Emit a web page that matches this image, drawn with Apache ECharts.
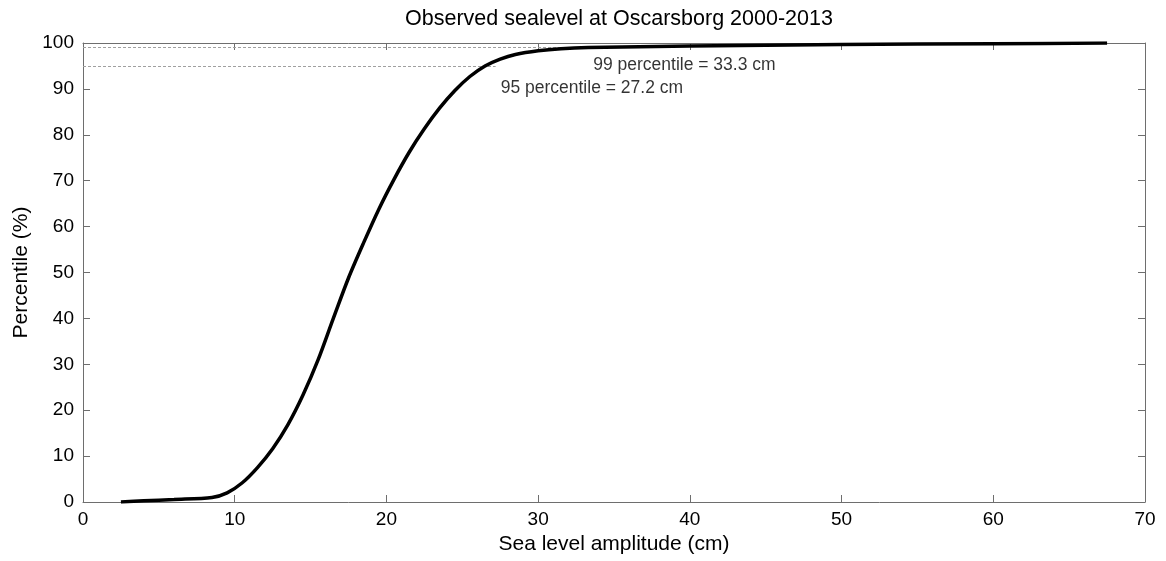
<!DOCTYPE html>
<html>
<head>
<meta charset="utf-8">
<script src="https://cdn.jsdelivr.net/npm/echarts@6/dist/echarts.min.js"></script>
<style>html,body{margin:0;padding:0;background:#fff}#c{width:1166px;height:561px}</style>
</head>
<body>
<div id="c"></div>
<script>
const amplitudeCm = [2.5,4,6,8.5,9.5,10.5,11.5,12.5,13.5,14.5,15.5,16.5,17.5,18.5,19.5,20.5,21.5,22.5,23.5,24.5,25.5,26.5,27.5,28.5,30.0,31.5,33.3,40,50,60,67.5];
const percentile = [0,0.25,0.55,1.0,2.0,4.2,7.5,11.6,16.8,23.3,31.0,40.0,48.8,56.5,63.8,70.3,76.2,81.3,85.8,89.6,92.7,95.0,96.5,97.5,98.3,98.75,99.0,99.35,99.65,99.85,100];
const markLevels = [99, 95];
const markValues = [33.3, 27.2];
const markTexts = ['99 percentile = 33.3 cm', '95 percentile = 27.2 cm'];
const xTicks = [0,10,20,30,40,50,60,70];
const yTicks = [0,10,20,30,40,50,60,70,80,90,100];

const chart = echarts.init(document.getElementById('c'));
const font = 'Liberation Sans, Arial, sans-serif';
const axisColor = '#6e6e6e';
const labelOffsets = [[0, 17.5], [0, 22.5]];
const baseAxis = {
  axisLine: {show: true, onZero: false, lineStyle: {color: axisColor, width: 1}},
  axisTick: {show: true, inside: true, length: 7, lineStyle: {color: axisColor}},
  splitLine: {show: false}
};
chart.setOption({
  animation: false,
  backgroundColor: '#fff',
  title: {
    text: 'Observed sealevel at Oscarsborg 2000-2013',
    left: 619, top: 8, padding: 0, textAlign: 'center',
    textStyle: {fontFamily: font, fontSize: 21.5, fontWeight: 'normal', color: '#000'}
  },
  grid: {left: 83, right: 21, top: 43, bottom: 59, containLabel: false},
  xAxis: [
    Object.assign({}, baseAxis, {
      type: 'value', min: xTicks[0], max: xTicks[xTicks.length-1], interval: 10,
      position: 'bottom',
      name: 'Sea level amplitude (cm)', nameLocation: 'middle', nameGap: 21,
      nameTextStyle: {fontFamily: font, fontSize: 21, color: '#000', verticalAlign: 'top'},
      axisLabel: {fontFamily: font, fontSize: 19, color: '#000', margin: 8}
    }),
    Object.assign({}, baseAxis, {
      type: 'value', min: xTicks[0], max: xTicks[xTicks.length-1], interval: 10,
      position: 'top', axisLabel: {show: false}
    })
  ],
  yAxis: [
    Object.assign({}, baseAxis, {
      type: 'value', min: yTicks[0], max: yTicks[yTicks.length-1], interval: 10,
      position: 'left',
      name: 'Percentile (%)', nameLocation: 'middle', nameGap: 51, nameRotate: 90,
      nameTextStyle: {fontFamily: font, fontSize: 21, color: '#000'},
      axisLabel: {fontFamily: font, fontSize: 19, color: '#000', margin: 9}
    }),
    Object.assign({}, baseAxis, {
      type: 'value', min: yTicks[0], max: yTicks[yTicks.length-1], interval: 10,
      position: 'right', axisLabel: {show: false}
    })
  ],
  series: [
    {
      type: 'line',
      data: amplitudeCm.map((x, i) => [x, percentile[i]]),
      showSymbol: false,
      smooth: 0.3,
      lineStyle: {color: '#000', width: 3.5},
      z: 5,
      markLine: {
        silent: true, symbol: 'none', label: {show: false},
        lineStyle: {color: '#a0a0a0', type: [3, 2], width: 1},
        data: markLevels.map((p, i) => [{coord: [0, p]}, {coord: [markValues[i], p]}])
      }
    },
    {
      type: 'scatter',
      symbolSize: 0,
      data: markLevels.map((p, i) => ({
        value: [markValues[i], p], name: markTexts[i],
        label: {offset: labelOffsets[i]}
      })),
      label: {
        show: true, position: 'right', formatter: p => p.name,
        fontFamily: font, fontSize: 17.5, color: '#000'
      },
      z: 6
    }
  ]
});
</script>
</body>
</html>
